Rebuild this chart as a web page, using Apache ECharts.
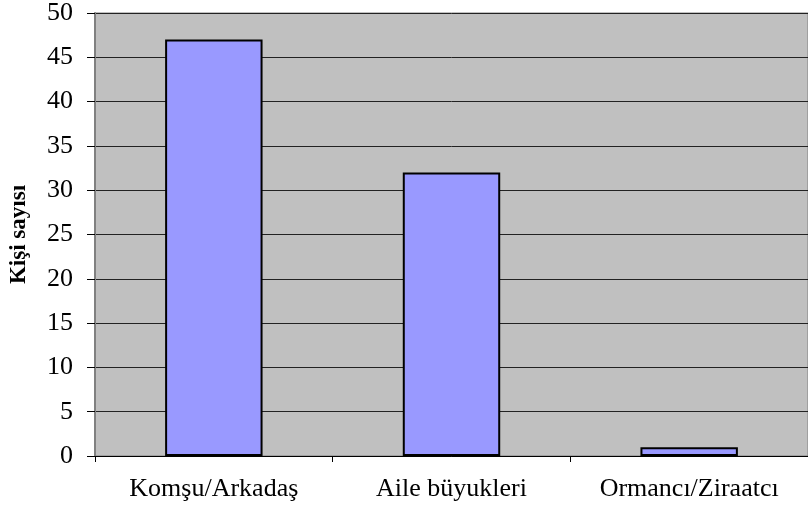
<!DOCTYPE html>
<html>
<head>
<meta charset="utf-8">
<script src="https://cdn.jsdelivr.net/npm/echarts@6/dist/echarts.min.js"></script>
<style>
  html, body { margin: 0; padding: 0; background: #fff; }
  #chart { width: 808px; height: 506px; }
</style>
</head>
<body>
<div id="chart"></div>
<script>
var categories = ['Komşu/Arkadaş', 'Aile büyukleri', 'Ormancı/Ziraatcı'];
var values = [47, 32, 1];
var yTicks = { min: 0, max: 50, step: 5 };

var chart = echarts.init(document.getElementById('chart'));
chart.setOption({
  animation: false,
  textStyle: { fontFamily: 'Liberation Serif' },
  grid: {
    left: 94, right: 0, top: 12, bottom: 50,
    show: true, backgroundColor: '#c0c0c0', borderColor: '#808080', borderWidth: 1
  },
  xAxis: {
    type: 'category',
    data: categories,
    axisLine: { show: true, lineStyle: { color: '#000', width: 1 } },
    axisTick: { show: true, length: 6, lineStyle: { color: '#000' } },
    axisLabel: { color: '#000', fontSize: 26, margin: 20, fontFamily: 'Liberation Serif' }
  },
  yAxis: {
    type: 'value',
    min: yTicks.min, max: yTicks.max, interval: yTicks.step,
    name: 'Kişi sayısı',
    nameLocation: 'middle',
    nameGap: 64,
    nameTextStyle: { color: '#000', fontSize: 23, fontWeight: 'bold', fontFamily: 'Liberation Serif' },
    axisLine: { show: true, lineStyle: { color: '#808080', width: 2 } },
    axisTick: { show: true, length: 8, lineStyle: { color: '#000' } },
    axisLabel: { color: '#000', fontSize: 26, margin: 22, fontFamily: 'Liberation Serif' },
    splitLine: { show: true, lineStyle: { color: '#222', width: 1 } }
  },
  series: [{
    type: 'bar',
    data: values,
    barWidth: '41%',
    itemStyle: { color: '#9999ff', borderColor: '#000', borderWidth: 2 }
  }]
});
</script>
</body>
</html>
